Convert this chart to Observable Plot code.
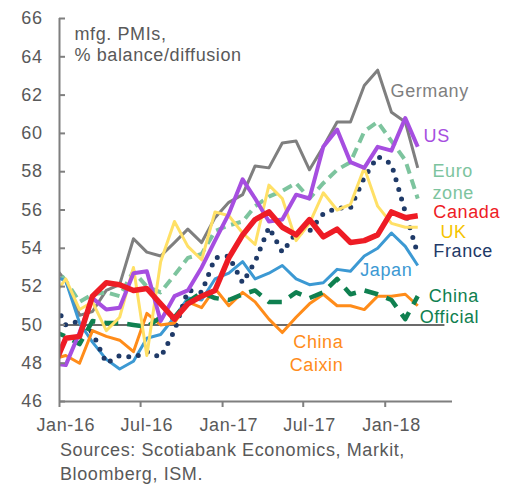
<!DOCTYPE html>
<html><head><meta charset="utf-8">
<script src="https://cdn.jsdelivr.net/npm/d3@7"></script>
<script src="https://cdn.jsdelivr.net/npm/@observablehq/plot@0.6"></script>
<style>
body{margin:0;background:#fff;font-family:"Liberation Sans",Arial,sans-serif;}
#chart{width:515px;}
#chart svg{display:block;}
.cap{margin:0;padding-left:60px;color:#595959;font-size:18px;letter-spacing:0.6px;line-height:24px;}
</style></head><body>
<div id="chart"></div>
<div class="cap">Sources: Scotiabank Economics, Markit,<br>Bloomberg, ISM.</div>
<script>
// Monthly observations, Dec-15 .. Mar-18 (plotted at mid-month)
const months = ["2015-12","2016-01","2016-02","2016-03","2016-04","2016-05","2016-06","2016-07","2016-08","2016-09","2016-10","2016-11","2016-12",
  "2017-01","2017-02","2017-03","2017-04","2017-05","2017-06","2017-07","2017-08","2017-09","2017-10","2017-11","2017-12",
  "2018-01","2018-02","2018-03"];
const germany = [53.2,52.3,50.5,50.7,51.8,52.1,54.5,53.8,53.6,54.3,55.0,54.3,55.6,56.4,56.8,58.3,58.2,59.5,59.6,58.1,59.3,60.6,60.6,62.5,63.3,61.1,60.6,58.2];
const euroZone = [53.2,52.3,51.2,51.6,51.7,51.5,52.8,52.0,51.7,52.6,53.5,53.7,54.9,55.2,55.4,56.2,56.7,57.0,57.4,56.6,57.4,58.1,58.5,60.1,60.6,59.6,58.6,56.6];
const france = [51.4,50.0,50.2,49.6,48.0,48.4,48.3,48.6,48.3,49.7,51.8,51.7,53.5,53.6,52.2,53.3,55.1,53.8,54.8,54.9,55.8,56.1,56.1,57.7,58.8,58.4,55.9,53.7];
const japan = [52.6,52.3,50.1,49.1,48.2,47.7,48.1,49.3,49.5,50.4,51.4,51.3,52.4,52.7,53.3,52.4,52.7,53.1,52.4,52.1,52.2,52.9,52.8,53.6,54.0,54.8,54.1,53.1];
const chinaCaixin = [48.2,48.4,48.0,49.7,49.4,49.2,48.6,50.6,50.0,50.1,51.2,50.9,51.9,51.0,51.7,51.2,50.3,49.6,50.4,51.1,51.6,51.0,51.0,50.8,51.5,51.5,51.6,51.0];
const chinaOfficial = [49.7,49.4,49.0,50.2,50.1,50.1,50.0,49.9,50.4,50.4,51.2,51.7,51.4,51.3,51.6,51.8,51.2,51.2,51.7,51.4,51.7,52.4,51.6,51.8,51.6,51.3,50.3,51.5];
const uk = [51.4,52.4,50.8,51.2,49.7,50.4,53.0,48.4,53.3,55.4,54.1,53.4,55.9,55.7,54.8,54.2,57.3,56.6,54.4,55.3,56.9,56.0,56.3,58.2,56.2,55.3,55.1,55.1];
const us = [48.0,47.9,49.6,51.4,50.8,50.9,52.7,52.8,50.2,51.5,51.8,53.0,54.4,55.8,57.6,56.6,55.4,55.5,56.8,56.6,59.3,60.2,58.5,58.2,59.3,59.1,60.8,59.3];
const canada = [47.6,49.3,49.4,51.5,52.2,52.1,51.8,51.9,51.1,50.3,51.1,51.5,51.8,53.5,54.7,55.5,55.9,55.1,54.7,55.5,54.6,55.0,54.3,54.4,54.7,55.9,55.6,55.7];

// Axes
const xStart = "2016-01-01", xEnd = "2018-06-01";
const xTickDates = ["2016-01-01","2016-07-01","2017-01-01","2017-07-01","2018-01-01"];
const xTickLabels = ["Jan-16","Jul-16","Jan-17","Jul-17","Jan-18"];
const yTicks = [46,48,50,52,54,56,58,60,62,64,66];
const neutral = 50, neutralEnd = "2018-05-15";

// Series labels (anchored in data units)
const labelText  = ["Germany","US","Euro","zone","Canada","UK","France","Japan","China","Official","China","Caixin"];
const labelDate  = ["2018-01-13","2018-03-28","2018-04-17","2018-04-17","2018-04-19","2018-05-05","2018-04-19","2017-11-06","2018-07-30","2018-07-31","2017-09-29","2017-09-29"];
const labelValue = [62.2,59.85,58.03,56.9,55.86,54.84,53.85,52.86,51.52,50.38,49.1,47.9];
const labelAnchor= ["start","start","start","start","start","start","start","start","end","end","end","end"];
const labelColor = ["#7f7f7f","#a64ee0","#7dc49e","#7dc49e","#ee1c25","#f5c400","#1f3a68","#3c99d3","#0f8050","#0f8050","#ff8c1a","#ff8c1a"];

const title = ["mfg. PMIs,", "% balance/diffusion"];

const date = s => new Date(s + "T00:00:00Z");
const mid = m => date(m + "-15");
const rows = vals => months.map((m, i) => ({date: mid(m), value: vals[i]}));

const series = [
  {v: germany, stroke: "#7f7f7f", w: 3},
  {v: euroZone, stroke: "#7dc49e", w: 4, dash: "10 6"},
  {v: japan, stroke: "#3c99d3", w: 3},
  {v: france, stroke: "#1f3a68", w: 5, dash: "0 10", cap: "round"},
  {v: chinaCaixin, stroke: "#ff8c1a", w: 3},
  {v: chinaOfficial, stroke: "#0f8050", w: 4.5, dash: "14 9"},
  {v: uk, stroke: "#ffe066", w: 3},
  {v: us, stroke: "#a64ee0", w: 4},
  {v: canada, stroke: "#ee1c25", w: 5.5}
];

const labels = labelText.map((t, i) => ({t, date: date(labelDate[i]), value: labelValue[i], a: labelAnchor[i], c: labelColor[i]}));
const axisColor = "#7f7f7f";

const plot = Plot.plot({
  width: 515, height: 438,
  marginLeft: 59, marginRight: 63, marginTop: 18, marginBottom: 37,
  style: {fontSize: "18px", fontFamily: "Liberation Sans, Arial, sans-serif", color: "#595959", letterSpacing: "0.6px", background: "#fff"},
  x: {type: "utc", domain: [date(xStart), date(xEnd)]},
  y: {domain: [46, 66]},
  marks: [
    Plot.ruleY([neutral], {x1: date(xStart), x2: date(neutralEnd), stroke: "#6b6b6b", strokeWidth: 2}),
    ...series.map(s => Plot.line(rows(s.v), {x: "date", y: "value", stroke: s.stroke, strokeWidth: s.w,
      strokeDasharray: s.dash, strokeLinecap: s.cap || "butt", strokeLinejoin: "round", clip: true})),
    Plot.ruleX([date(xStart)], {stroke: axisColor, strokeWidth: 2}),
    Plot.ruleY([46], {stroke: axisColor, strokeWidth: 2}),
    Plot.axisY({ticks: yTicks, tickSize: 0, tickPadding: 17, tickFormat: d => String(d), label: null}),
    Plot.axisY({ticks: yTicks, tickSize: -6, tickFormat: () => "", stroke: axisColor, strokeWidth: 2, label: null}),
    Plot.axisX({ticks: xTickDates.map(date), tickSize: 6, tickFormat: () => "", stroke: axisColor, strokeWidth: 2, label: null}),
    Plot.axisX({ticks: xTickDates.map(d => mid(d.slice(0, 7))), tickSize: 0, tickPadding: 17,
      tickFormat: (d, i) => xTickLabels[i], label: null}),
    Plot.text(labels.filter(d => d.a === "start"), {x: "date", y: "value", text: "t", fill: "c", textAnchor: "start", lineAnchor: "middle"}),
    Plot.text(labels.filter(d => d.a === "end"), {x: "date", y: "value", text: "t", fill: "c", textAnchor: "end", lineAnchor: "middle"}),
    Plot.text([title[0]], {frameAnchor: "top-left", textAnchor: "start", lineAnchor: "middle", dx: 15, dy: 15.7, fill: "#595959"}),
    Plot.text([title[1]], {frameAnchor: "top-left", textAnchor: "start", lineAnchor: "middle", dx: 15, dy: 36.9, fill: "#595959"})
  ]
});
document.getElementById("chart").appendChild(plot);
</script>
</body></html>
